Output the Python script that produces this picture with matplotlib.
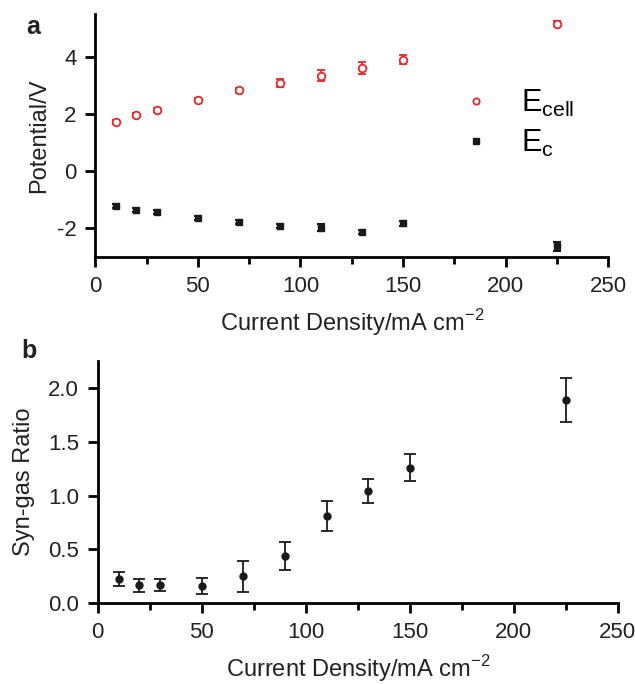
import matplotlib.pyplot as plt
from matplotlib.lines import Line2D
from matplotlib.ticker import MultipleLocator

plt.rcParams['font.family'] = ['Liberation Sans', 'DejaVu Sans']
plt.rcParams['axes.unicode_minus'] = False

# current densities (mA cm-2)
current = [10, 20, 30, 50, 70, 90, 110, 130, 150, 225]

# panel a: potentials (V)
e_cell = [1.71, 1.94, 2.14, 2.48, 2.81, 3.07, 3.33, 3.58, 3.89, 5.15]
e_cell_err = [0.07, 0.07, 0.07, 0.08, 0.08, 0.15, 0.18, 0.21, 0.17, 0.08]
e_c = [-1.24, -1.36, -1.45, -1.66, -1.80, -1.95, -2.00, -2.15, -1.85, -2.65]
e_c_err = [0.07, 0.07, 0.08, 0.07, 0.07, 0.07, 0.12, 0.07, 0.08, 0.15]

# panel b: syn-gas ratio
ratio = [0.23, 0.167, 0.173, 0.161, 0.25, 0.437, 0.81, 1.046, 1.26, 1.89]
ratio_err = [0.065, 0.062, 0.055, 0.074, 0.145, 0.13, 0.136, 0.11, 0.124, 0.207]

fig = plt.figure(figsize=(6.35, 6.84), dpi=100)
ax1 = fig.add_axes([0.150, 0.624, 0.808, 0.356])
ax2 = fig.add_axes([0.154, 0.118, 0.819, 0.354])

red = "#e8262a"
dark = "#1a1a1a"
txt = "#222222"

ax1.errorbar(current, e_cell, yerr=e_cell_err, fmt='o', mfc='white', mec=red,
             ecolor=red, mew=1.3, ms=5.5, capsize=3, elinewidth=1.2, capthick=1.2)
ax1.errorbar(current, e_c, yerr=e_c_err, fmt='s', color=dark, ms=5,
             capsize=3, elinewidth=1.5, capthick=1.5)

ax2.errorbar(current, ratio, yerr=ratio_err, fmt='o', color=dark, ms=5,
             capsize=4, elinewidth=1.3, capthick=1.3)

for ax in (ax1, ax2):
    ax.set_xlim(0, 250)
    ax.spines['top'].set_visible(False)
    ax.spines['right'].set_visible(False)
    ax.spines['left'].set_linewidth(2)
    ax.spines['bottom'].set_linewidth(2)
    ax.xaxis.set_major_locator(MultipleLocator(50))
    ax.xaxis.set_minor_locator(MultipleLocator(25))
    ax.tick_params(which='major', direction='out', length=7.5, width=2, pad=6,
                   labelsize=16, labelcolor=txt)
    ax.tick_params(which='minor', direction='out', length=5, width=2)
    ax.set_xlabel("Current Density/mA cm$^{\\mathregular{-2}}$", fontsize=17,
                  color=txt, labelpad=7)

ax1.set_ylim(-3.03, 5.5)
ax1.yaxis.set_major_locator(MultipleLocator(2))
ax1.set_ylabel("Potential/V", fontsize=17, color=txt)
ax1.yaxis.set_label_coords(-0.088, 0.5)

handles = [Line2D([], [], ls='none', marker='o', mfc='white', mec=red, mew=1.3, ms=4.5),
           Line2D([], [], ls='none', marker='s', color=dark, ms=4.5)]
labels = [r"E$_{\mathregular{cell}}$", r"E$_{\mathregular{c}}$"]
ax1.legend(handles, labels, loc='center left', bbox_to_anchor=(0.713, 0.55),
           frameon=False, fontsize=22, handlelength=1.0, handletextpad=0.95,
           labelspacing=0.28, borderpad=0, borderaxespad=0)

ax2.set_ylim(0, 2.25)
ax2.yaxis.set_major_locator(MultipleLocator(0.5))
ax2.yaxis.set_major_formatter(plt.FormatStrFormatter('%.1f'))
ax2.set_ylabel("Syn-gas Ratio", fontsize=17, color=txt)
ax2.yaxis.set_label_coords(-0.121, 0.5)

fig.text(0.042, 0.951, "a", fontsize=18, fontweight='bold', color=txt)
fig.text(0.033, 0.477, "b", fontsize=18, fontweight='bold', color=txt)

fig.savefig("out.png", dpi=100)
